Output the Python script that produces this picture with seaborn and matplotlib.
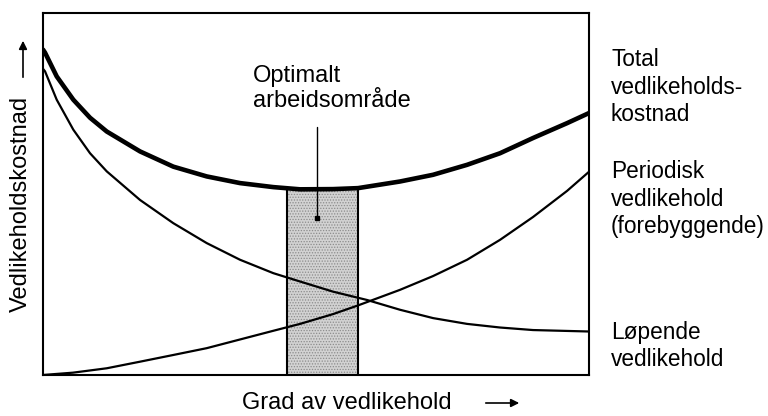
import numpy as np
import pandas as pd
import matplotlib
matplotlib.use("Agg")
import matplotlib.pyplot as plt
import seaborn as sns

# x = grad av vedlikehold (0-100), y = kostnad (0-100)
total_x = [0, 0.37, 2.51, 5.55, 8.61, 11.67, 17.77, 23.86, 29.98, 36.08, 42.18, 47.07,
           53.11, 57.69, 65.38, 71.43, 77.66, 83.7, 89.74, 95.97, 100]
total_y = [89.8, 88.95, 82.4, 75.97, 71.0, 67.2, 61.7, 57.5, 54.8, 52.96, 51.85, 51.24,
           51.3, 51.57, 53.4, 55.25, 58.0, 61.2, 65.4, 69.5, 72.3]

lop_x = [0, 0.37, 2.51, 5.55, 8.61, 11.67, 17.77, 23.86, 29.98, 36.08, 42.18, 47.07,
         53.11, 59.34, 65.38, 71.43, 77.66, 83.7, 89.74, 100]
lop_y = [84.5, 83.8, 75.97, 67.7, 61.2, 56.2, 48.3, 41.9, 36.4, 31.8, 28.1, 25.8,
         23.0, 20.7, 18.0, 15.7, 14.1, 13.1, 12.4, 12.0]

per_x = [0, 5.49, 11.67, 17.77, 23.86, 29.98, 36.08, 42.18, 47.07, 53.11, 57.69,
         65.38, 71.43, 77.66, 83.7, 89.74, 95.97, 100]
per_y = [0, 0.64, 1.85, 3.67, 5.52, 7.4, 9.8, 12.2, 14.1, 16.8, 19.2,
         23.5, 27.3, 31.8, 37.3, 43.6, 50.8, 56.1]

opt_start, opt_end, opt_top = 44.7, 57.7, 51.4

sns.set_style("white")
plt.rcParams["font.family"] = ["Liberation Sans", "DejaVu Sans"]
plt.rcParams["text.color"] = "black"
plt.rcParams["hatch.linewidth"] = 0.6

fig = plt.figure(figsize=(7.68, 4.16), dpi=100)
ax = fig.add_axes([0.056, 0.0986, 0.711, 0.871])

# optimalt område (prikket grått felt)
ax.fill_between([opt_start, opt_end], 0, opt_top, facecolor="#d2d2d2",
                edgecolor="#8c8c8c", hatch="......", linewidth=0, zorder=1)
ax.plot([opt_start, opt_start], [0, opt_top], color="black", lw=1.5, zorder=2)
ax.plot([opt_end, opt_end], [0, opt_top], color="black", lw=1.5, zorder=2)

sns.lineplot(x=lop_x, y=lop_y, color="black", lw=1.6, ax=ax, zorder=3)
sns.lineplot(x=per_x, y=per_y, color="black", lw=1.6, ax=ax, zorder=3)
sns.lineplot(x=total_x, y=total_y, color="black", lw=3.3, ax=ax, zorder=4)

# pil til optimalt område
ax.plot([50.1, 50.1], [68.5, 43.4], color="black", lw=1.0, zorder=5)
ax.plot([50.1], [43.4], marker="s", ms=3.5, color="black", zorder=5)
ax.text(38.5, 79.0, "Optimalt\narbeidsområde", fontsize=17, ha="left", va="center",
        linespacing=1.15)

ax.set_xlim(0, 100)
ax.set_ylim(0, 100)
ax.set_xticks([])
ax.set_yticks([])
for s in ax.spines.values():
    s.set_color("black")
    s.set_linewidth(1.5)

# etiketter til høyre
lab_kw = dict(fontsize=16.3, ha="left", va="center", linespacing=1.27)
fig.text(611 / 768, 1 - 87 / 416, "Total\nvedlikeholds-\nkostnad", **lab_kw)
fig.text(611 / 768, 1 - 199 / 416, "Periodisk\nvedlikehold\n(forebyggende)", **lab_kw)
fig.text(611 / 768, 1 - 346 / 416, "Løpende\nvedlikehold", **lab_kw)

# aksetitler med piler
fig.text(347 / 768, 1 - 403 / 416, "Grad av vedlikehold", fontsize=17, ha="center", va="center")
ax.annotate("", xy=(522 / 768, 1 - 403 / 416), xytext=(483 / 768, 1 - 403 / 416),
            xycoords="figure fraction",
            arrowprops=dict(arrowstyle="-|>", color="black", lw=1.2, mutation_scale=12))
fig.text(21 / 768, 1 - 204 / 416, "Vedlikeholdskostnad", fontsize=17, rotation=90,
         ha="center", va="center")
ax.annotate("", xy=(23 / 768, 1 - 38 / 416), xytext=(23 / 768, 1 - 80 / 416),
            xycoords="figure fraction",
            arrowprops=dict(arrowstyle="-|>", color="black", lw=1.2, mutation_scale=12))

fig.savefig("out.png", dpi=100)
